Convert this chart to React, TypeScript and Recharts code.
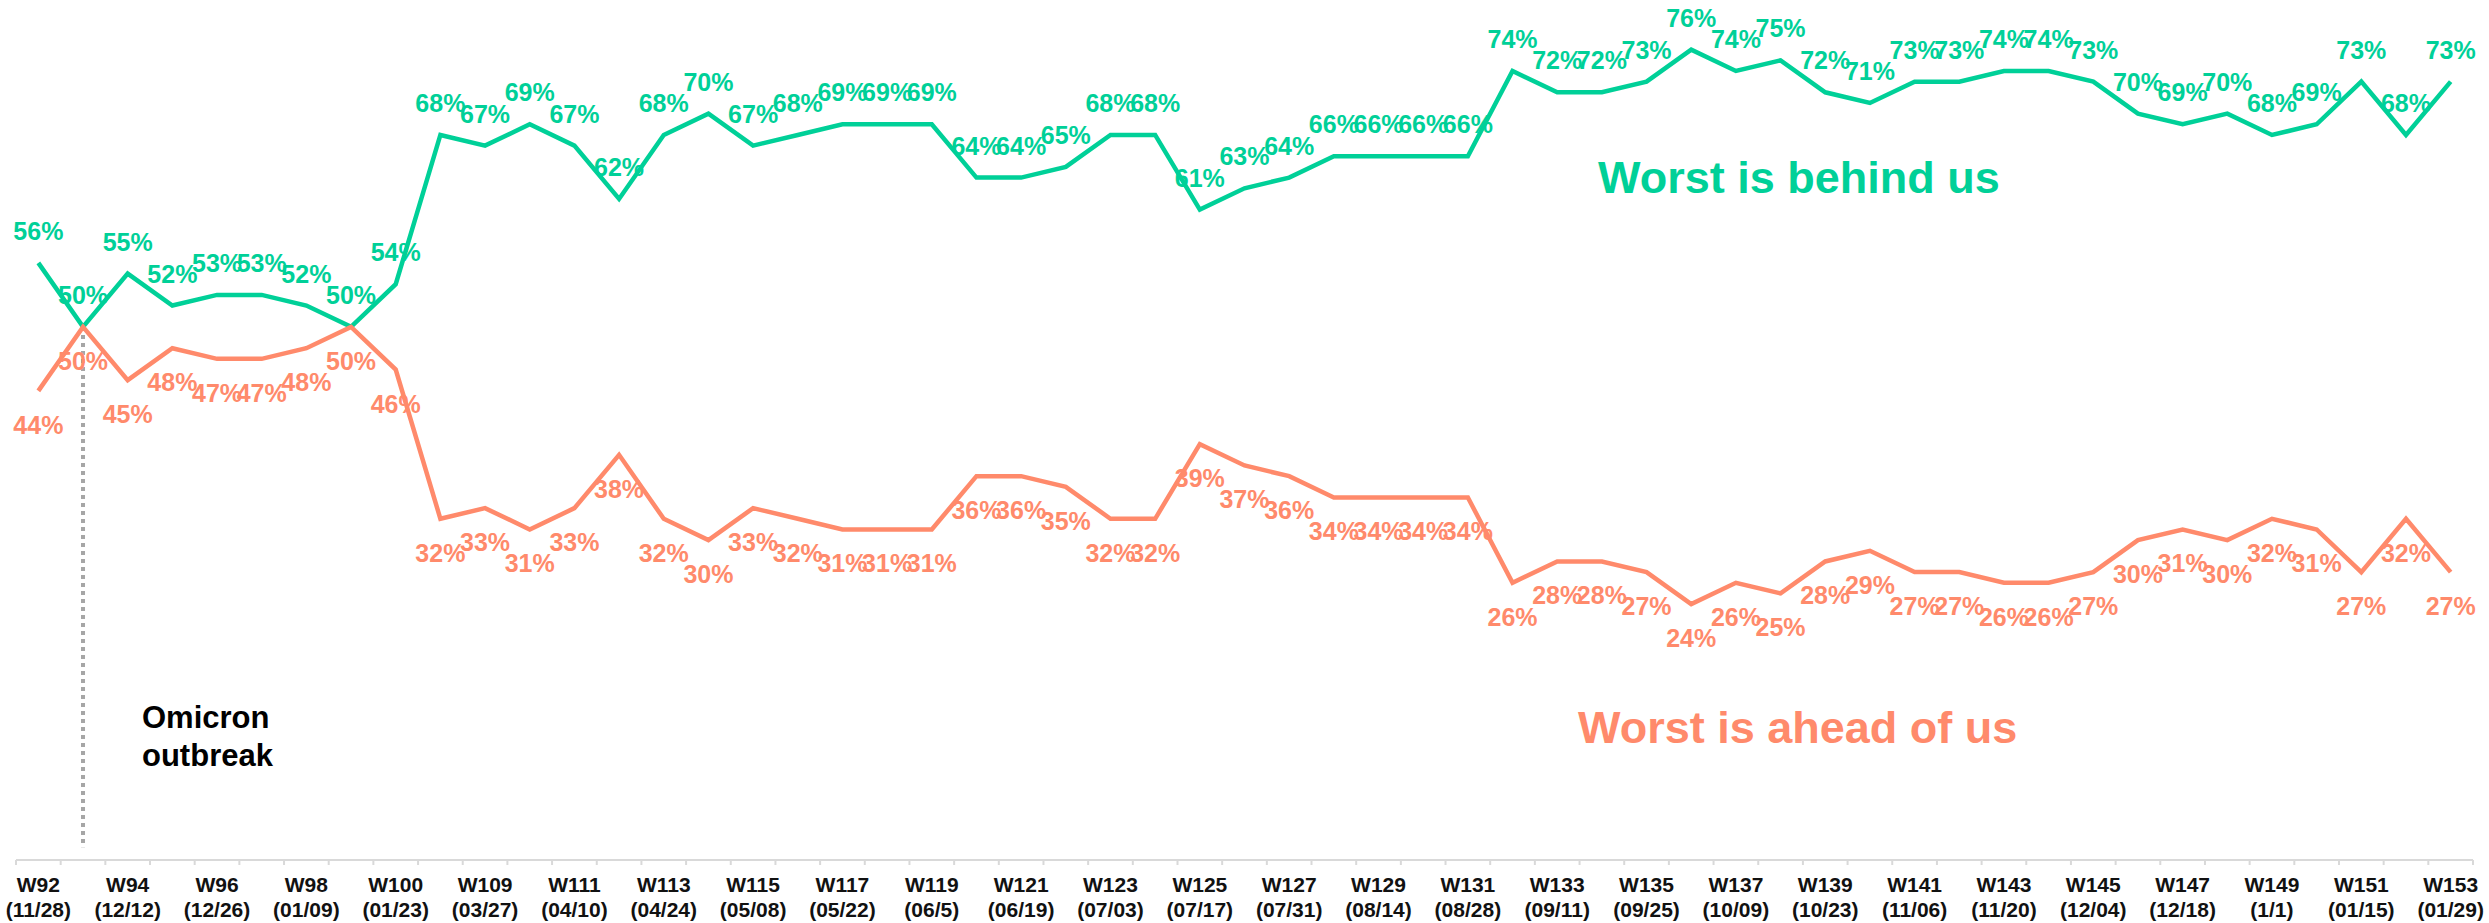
import { LabelList, Line, LineChart, ReferenceLine, XAxis, YAxis } from "recharts";

const W = 2489;
const H = 923;
const AXIS_H = 63;
const MARGIN = { top: 7, right: 16, bottom: 0, left: 16 };

const GREEN = "#00d098";
const ORANGE = "#ff8a6b";
const FONT = "'Liberation Sans', Arial, sans-serif";

const weeks = [
  "W92", "W93", "W94", "W95", "W96", "W97", "W98", "W99", "W100", "W108",
  "W109", "W110", "W111", "W112", "W113", "W114", "W115", "W116", "W117", "W118",
  "W119", "W120", "W121", "W122", "W123", "W124", "W125", "W126", "W127", "W128",
  "W129", "W130", "W131", "W132", "W133", "W134", "W135", "W136", "W137", "W138",
  "W139", "W140", "W141", "W142", "W143", "W144", "W145", "W146", "W147", "W148",
  "W149", "W150", "W151", "W152", "W153",
];

const dates: Record<string, string> = {
  W92: "11/28", W94: "12/12", W96: "12/26", W98: "01/09", W100: "01/23",
  W109: "03/27", W111: "04/10", W113: "04/24", W115: "05/08", W117: "05/22",
  W119: "06/5", W121: "06/19", W123: "07/03", W125: "07/17", W127: "07/31",
  W129: "08/14", W131: "08/28", W133: "09/11", W135: "09/25", W137: "10/09",
  W139: "10/23", W141: "11/06", W143: "11/20", W145: "12/04", W147: "12/18",
  W149: "1/1", W151: "01/15", W153: "01/29",
};

const behindUs = [
  56, 50, 55, 52, 53, 53, 52, 50, 54, 68, 67, 69, 67, 62, 68, 70, 67, 68, 69, 69,
  69, 64, 64, 65, 68, 68, 61, 63, 64, 66, 66, 66, 66, 74, 72, 72, 73, 76, 74, 75,
  72, 71, 73, 73, 74, 74, 73, 70, 69, 70, 68, 69, 73, 68, 73,
];

const aheadOfUs = [
  44, 50, 45, 48, 47, 47, 48, 50, 46, 32, 33, 31, 33, 38, 32, 30, 33, 32, 31, 31,
  31, 36, 36, 35, 32, 32, 39, 37, 36, 34, 34, 34, 34, 26, 28, 28, 27, 24, 26, 25,
  28, 29, 27, 27, 26, 26, 27, 30, 31, 30, 32, 31, 27, 32, 27,
];

const data = weeks.map((week, i) => ({ week, behind: behindUs[i], ahead: aheadOfUs[i] }));

// width of one category band, used for the boundary tick marks
const BAND = (W - MARGIN.left - MARGIN.right) / weeks.length;

const WeekTick = ({ x, y, payload }: { x: number; y: number; payload: { value: string } }) => (
  <g>
    <line x1={x - BAND / 2} x2={x - BAND / 2} y1={y} y2={y + 5} stroke="#d9d9d9" strokeWidth={2} />
    <line x1={x + BAND / 2} x2={x + BAND / 2} y1={y} y2={y + 5} stroke="#d9d9d9" strokeWidth={2} />
    <text x={x} y={y + 32} textAnchor="middle" fontFamily={FONT} fontWeight="bold" fontSize={21} fill="#111">
      {payload.value}
    </text>
    <text x={x} y={y + 57} textAnchor="middle" fontFamily={FONT} fontWeight="bold" fontSize={21} fill="#111">
      ({dates[payload.value] ?? ""})
    </text>
  </g>
);

const pctLabel = (color: string, dy: number) => (props: any) => (
  <text
    x={props.x}
    y={props.y + dy}
    textAnchor="middle"
    fontFamily={FONT}
    fontWeight="bold"
    fontSize={25}
    fill={color}
  >
    {props.value}%
  </text>
);

export default function App() {
  return (
    <div style={{ position: "absolute", left: 0, top: 0, width: W, height: H, background: "#fff" }}>
      <LineChart width={W} height={H} data={data} margin={MARGIN}>
        <XAxis
          dataKey="week"
          scale="band"
          interval={1}
          height={AXIS_H}
          tickLine={false}
          tickSize={0}
          tickMargin={0}
          axisLine={{ stroke: "#d9d9d9", strokeWidth: 2 }}
          tick={WeekTick as any}
        />
        <YAxis hide domain={[0, 80]} />
        <ReferenceLine
          segment={[{ x: "W93", y: 50 }, { x: "W93", y: 1.2 }]}
          stroke="#a6a6a6"
          strokeWidth={4}
          strokeDasharray="4 4"
        />
        <Line
          dataKey="behind"
          stroke={GREEN}
          strokeWidth={4.5}
          dot={false}
          isAnimationActive={false}
        >
          <LabelList dataKey="behind" content={pctLabel(GREEN, -23)} />
        </Line>
        <Line
          dataKey="ahead"
          stroke={ORANGE}
          strokeWidth={4.5}
          dot={false}
          isAnimationActive={false}
        >
          <LabelList dataKey="ahead" content={pctLabel(ORANGE, 43)} />
        </Line>
      </LineChart>
      <svg width={W} height={H} style={{ position: "absolute", left: 0, top: 0, pointerEvents: "none" }}>
        <text x={1598} y={193} fontFamily={FONT} fontWeight="bold" fontSize={45} fill={GREEN}>
          Worst is behind us
        </text>
        <text x={1578} y={743} fontFamily={FONT} fontWeight="bold" fontSize={45} fill={ORANGE}>
          Worst is ahead of us
        </text>
        <text fontFamily={FONT} fontWeight="bold" fontSize={31} fill="#000">
          <tspan x={142} y={728}>Omicron</tspan>
          <tspan x={142} y={766}>outbreak</tspan>
        </text>
      </svg>
    </div>
  );
}
